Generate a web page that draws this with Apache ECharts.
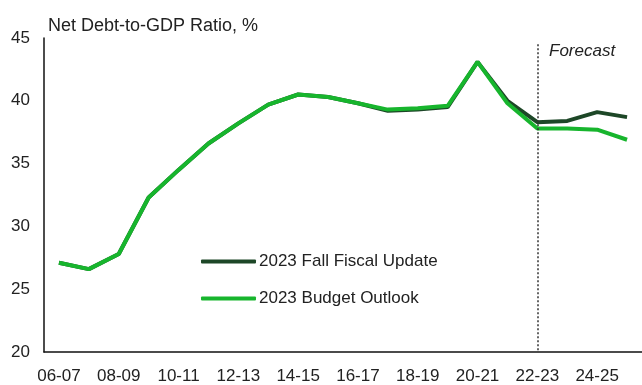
<!DOCTYPE html>
<html>
<head>
<meta charset="utf-8">
<script src="https://cdn.jsdelivr.net/npm/echarts@6/dist/echarts.min.js"></script>
<style>html,body{margin:0;padding:0;background:#fff}#c{width:642px;height:385px}</style>
</head>
<body>
<div id="c"></div>
<script>
const categories = ['06-07','07-08','08-09','09-10','10-11','11-12','12-13','13-14','14-15','15-16','16-17','17-18','18-19','19-20','20-21','21-22','22-23','23-24','24-25','25-26'];
const fallFiscalUpdate = [27.1,26.6,27.8,32.3,34.5,36.6,38.2,39.7,40.5,40.3,39.8,39.2,39.3,39.5,43.1,40.0,38.3,38.4,39.1,38.7];
const budgetOutlook   = [27.1,26.6,27.8,32.3,34.5,36.6,38.2,39.7,40.5,40.3,39.8,39.3,39.4,39.6,43.1,39.8,37.8,37.8,37.7,36.9];
const yTicks = [20,25,30,35,40,45];
const forecastStart = '22-23';

const font = '"Liberation Sans", Arial, sans-serif';
const chart = echarts.init(document.getElementById('c'), null, {renderer:'canvas'});
chart.setOption({
  animation:false,
  backgroundColor:'#fff',
  title:{text:'Net Debt-to-GDP Ratio, %', left:43, top:12,
    textStyle:{fontFamily:font, fontSize:18, fontWeight:'normal', color:'#222'}},
  grid:{left:44, right:-3, top:38, bottom:29, containLabel:false},
  legend:{orient:'vertical', left:196, top:248, itemWidth:55, itemHeight:4, itemGap:20,
    icon:'roundRect',
    textStyle:{fontFamily:font, fontSize:17, color:'#222', padding:[0,0,0,-2]},
    data:['2023 Fall Fiscal Update','2023 Budget Outlook']},
  xAxis:{type:'category', data:categories, boundaryGap:true,
    axisLine:{lineStyle:{color:'#111', width:1.5}}, axisTick:{show:false},
    axisLabel:{interval:1, margin:16, fontFamily:font, fontSize:17, color:'#222'}},
  yAxis:{type:'value', min:yTicks[0], max:yTicks[yTicks.length-1], interval:5,
    axisLine:{show:true, lineStyle:{color:'#111', width:1.5}}, axisTick:{show:false},
    splitLine:{show:false},
    axisLabel:{margin:14, fontFamily:font, fontSize:17, color:'#222'}},
  graphic:[{type:'text', left:549, top:43,
    style:{text:'Forecast', font:'italic 17px "Liberation Sans", Arial, sans-serif', fill:'#222'}}],
  series:[
    {name:'2023 Fall Fiscal Update', type:'line', data:fallFiscalUpdate, showSymbol:false,
      lineStyle:{color:'#1d4727', width:4}, itemStyle:{color:'#1d4727'}, z:2,
      markLine:{silent:true, symbol:'none', label:{show:false},
        lineStyle:{color:'#333', type:[2,2], width:1.5},
        data:[[{coord:[forecastStart,44.5]},{coord:[forecastStart,20]}]]}},
    {name:'2023 Budget Outlook', type:'line', data:budgetOutlook, showSymbol:false,
      lineStyle:{color:'#17b52d', width:4}, itemStyle:{color:'#17b52d'}, z:3}
  ]
});
</script>
</body>
</html>
